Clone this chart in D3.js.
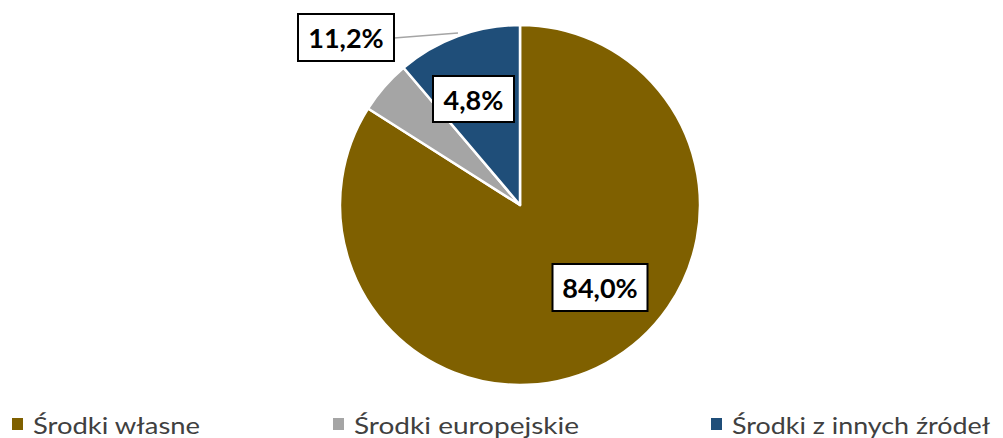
<!DOCTYPE html>
<html><head><meta charset="utf-8">
<script src="https://cdn.jsdelivr.net/npm/d3@7"></script>
<style>body{margin:0;background:#fff;overflow:hidden}svg{display:block}</style>
</head><body>
<svg id="c" width="1003" height="438"></svg>
<script>
const categories = ["Środki własne", "Środki europejskie", "Środki z innych źródeł"];
const values = [84.0, 4.8, 11.2];
const labels = ["84,0%", "11,2%", "4,8%"];
const colors = ["#7F6000", "#A5A5A5", "#1F4E79"];

const svg = d3.select("#c");
const cx = 520, cy = 205, R = 180;
const g = svg.append("g").attr("transform", `translate(${cx},${cy})`);
const pie = d3.pie().sort(null).value(d => d)(values);
const arc = d3.arc().innerRadius(0).outerRadius(R);
g.selectAll("path").data(pie).join("path")
  .attr("d", arc).attr("fill", (d,i)=>colors[i])
  .attr("stroke", "#fff").attr("stroke-width", 2.5).attr("stroke-linejoin","round");

const fontF = "Lato, 'Liberation Sans', sans-serif";
function box(x, y, w, h, text) {
  svg.append("rect").attr("x", x - w/2).attr("y", y - h/2).attr("width", w).attr("height", h)
    .attr("fill", "#fff").attr("stroke", "#000").attr("stroke-width", 2);
  svg.append("text").attr("x", x).attr("y", y).attr("text-anchor", "middle")
    .attr("dominant-baseline", "central").attr("font-family", fontF)
    .attr("font-weight", "bold").attr("font-size", 27).attr("fill", "#000").text(text);
}
svg.append("line").attr("x1", 394).attr("y1", 38).attr("x2", 458).attr("y2", 33)
  .attr("stroke", "#A5A5A5").attr("stroke-width", 1.5);
box(600, 287.5, 95, 47, labels[0]);
box(346, 37.5, 96, 47, labels[1]);
box(473.5, 99, 81, 46, labels[2]);

// legend
const legX = [12, 333, 711];
const legW = [167, 225, 258];
const lg = svg.append("g");
categories.forEach((c, i) => {
  lg.append("rect").attr("x", legX[i]).attr("y", 418).attr("width", 11).attr("height", 12).attr("fill", colors[i]);
  lg.append("text").attr("x", legX[i] + 21).attr("y", 434).attr("font-family", fontF)
    .attr("font-size", 24).attr("fill", "#404040")
    .attr("textLength", legW[i]).attr("lengthAdjust", "spacingAndGlyphs").text(c);
});
</script>
</body></html>
